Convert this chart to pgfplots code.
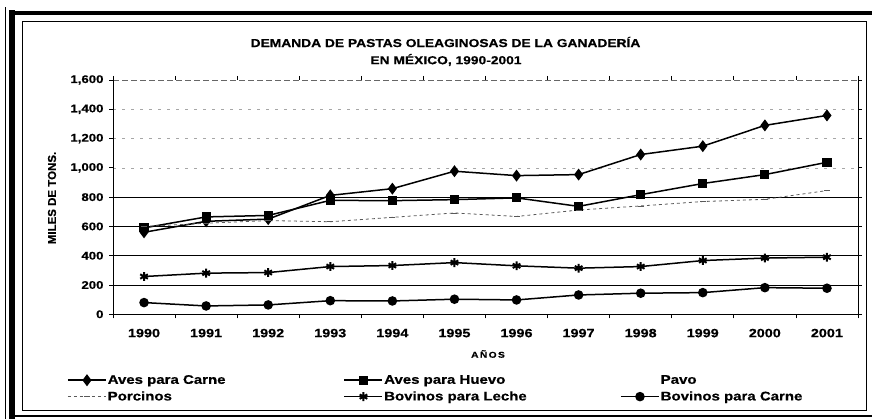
\documentclass[border=0pt]{standalone}
\usepackage{pgfplots}
\usepackage{pgfplotstable}
\pgfplotsset{compat=1.18}
\usepackage{fontspec}
\setmainfont{Liberation Sans}[FakeStretch=1.2, BoldFeatures={FakeBold=0.6}]
\newfontfamily\plainsans{Liberation Sans}[BoldFeatures={FakeBold=0.6}]

\pgfplotstableread{
year carne huevo porcinos leche bovcarne
1990 560 590 600 258 80
1991 635 665 622 281 57
1992 650 675 640 285 64
1993 812 778 632 326 93
1994 858 776 662 333 91
1995 977 783 692 353 103
1996 947 795 668 331 98
1997 954 737 712 315 132
1998 1091 817 740 326 144
1999 1148 893 770 367 148
2000 1290 954 785 384 182
2001 1358 1038 845 390 178
}\datatable

\begin{document}
\begin{tikzpicture}
\useasboundingbox (0pt,0pt) rectangle (872pt,419pt);
% outer frame
\draw[line width=1pt] (5pt,0pt) -- (5pt,412pt);
\draw[line width=6pt] (12pt,0pt) -- (12pt,409pt);
\draw[line width=4pt] (9pt,406pt) -- (872pt,406pt);
\draw[line width=2pt] (9pt,3pt) -- (872pt,3pt);
\draw[line width=1pt] (22pt,8pt) rectangle (866pt,397pt);
% title
\node[font=\bfseries\fontsize{11.5}{13}\selectfont] at (445.5pt,377pt) {DEMANDA DE PASTAS OLEAGINOSAS DE LA GANADERÍA};
\node[font=\bfseries\fontsize{11.5}{13}\selectfont] at (446pt,359pt) {EN MÉXICO, 1990-2001};
\node[rotate=90,font=\plainsans\bfseries\fontsize{11.5}{13}\selectfont] at (52pt,221pt) {MILES DE TONS.};
\node[font=\bfseries\fontsize{8.5}{10}\selectfont] at (488pt,65pt) {A\,Ñ\,O\,S};
\begin{axis}[
  at={(113pt,104.7pt)}, anchor=south west,
  scale only axis, width=745pt, height=234.3pt,
  xmin=1989.5, xmax=2001.5, ymin=0, ymax=1600,
  axis line style={draw=none},
  tick align=outside,
  ytick={0,200,...,1600},
  xtick={1990,...,2001},
  xticklabels={1990,1991,1992,1993,1994,1995,1996,1997,1998,1999,2000,2001},
  major x tick style={draw=none},
  minor xtick={1989.5,1990.5,...,2001.5},
  minor tick length=4pt,
  major tick length=4pt,
  y tick style={black, line width=0.8pt},
  minor x tick style={black, line width=0.8pt},
  yticklabel style={font=\bfseries\fontsize{11}{12}\selectfont, xshift=-2pt},
  xticklabel style={font=\bfseries\fontsize{12}{13}\selectfont, yshift=-7pt},
  /pgf/number format/1000 sep={,},
  /pgf/number format/assume math mode=true,
  clip=false,
  legend columns=3,
  legend cell align=left,
  legend style={draw=none, fill=none, inner sep=0pt, at={(-0.0617,-0.2545)}, anchor=north west,
    nodes={inner sep=1pt, font=\bfseries\fontsize{12.5}{14}\selectfont},
    row sep=4pt, column sep=0pt},
  legend image code/.code={\draw[mark repeat=2,mark phase=2,#1] plot coordinates {(0pt,0pt) (19pt,0pt) (38pt,0pt)};},
]
% grid lines
\foreach \v in {200,400,600,800}{
  \edef\tmp{\noexpand\draw[black, line width=1pt] (axis cs:1989.5,\v) -- (axis cs:2001.5,\v);}\tmp
}
\foreach \v in {1000,1200,1400}{
  \edef\tmp{\noexpand\draw[gray!70, line width=0.7pt, dash pattern=on 3pt off 6pt] (axis cs:1989.5,\v) -- (axis cs:2001.5,\v);}\tmp
}
\draw[gray!80!black, line width=0.8pt, dash pattern=on 6pt off 3pt] (rel axis cs:0,1) -- (rel axis cs:1,1);
\draw[black, line width=1pt] (rel axis cs:0,1) -- (rel axis cs:0,0) -- (rel axis cs:1,0) -- (rel axis cs:1,1);

\addplot[black, line width=1.5pt, mark=diamond*, mark size=4.8pt] table[x=year,y=carne]{\datatable};
\addlegendentry{\makebox[235pt][l]{Aves para Carne}}
\addplot[black, line width=1.5pt, mark=square*, mark size=3.8pt] table[x=year,y=huevo]{\datatable};
\addlegendentry{\makebox[235pt][l]{Aves para Huevo}}
\addlegendimage{white, draw opacity=0, fill opacity=0}
\addlegendentry{\makebox[235pt][l]{Pavo}}
\addplot[gray!70!black, line width=0.8pt, dash pattern=on 3pt off 3pt, mark=-, mark size=3pt, mark options={solid}] table[x=year,y=porcinos]{\datatable};
\addlegendentry{\makebox[235pt][l]{Porcinos}}
\addplot[black, line width=1.5pt, mark=asterisk, mark size=4.4pt, mark options={line width=2pt}] table[x=year,y=leche]{\datatable};
\addlegendentry{\makebox[235pt][l]{Bovinos para Leche}}
\addplot[black, line width=1.5pt, mark=*, mark size=4pt] table[x=year,y=bovcarne]{\datatable};
\addlegendentry{\makebox[235pt][l]{Bovinos para Carne}}
\end{axis}
\end{tikzpicture}
\end{document}
